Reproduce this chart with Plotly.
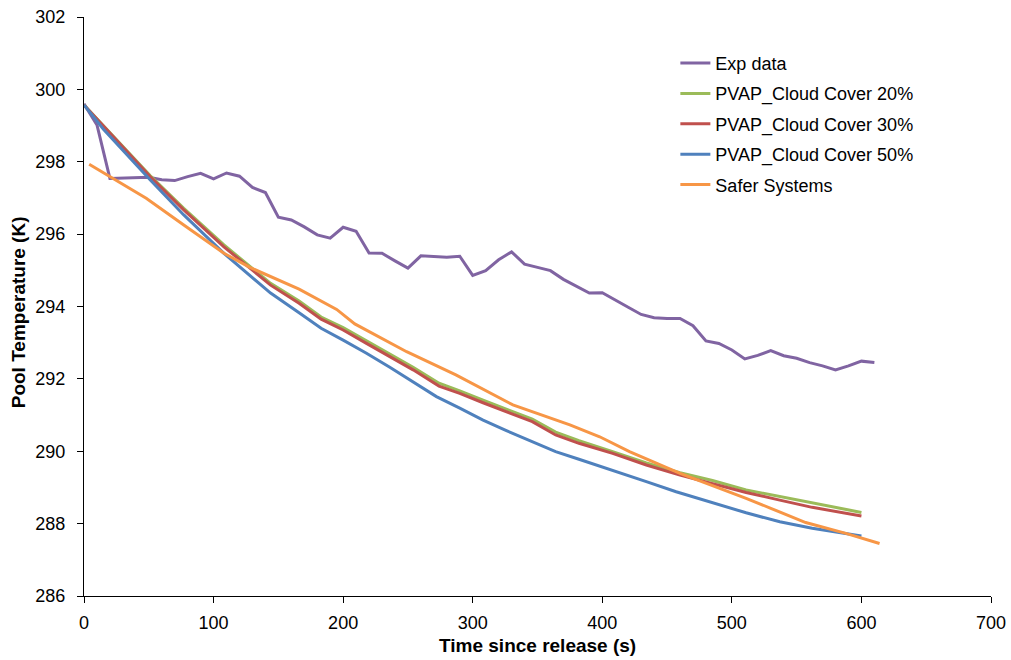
import plotly.graph_objects as go

# Exp data
exp_t = list(range(0, 620, 10))
exp_T = [299.60, 299.02, 297.54, 297.55, 297.56, 297.57, 297.50, 297.48, 297.59, 297.68,
         297.53, 297.69, 297.60, 297.29, 297.15, 296.47, 296.39, 296.20, 295.98, 295.89,
         296.19, 296.08, 295.48, 295.47, 295.26, 295.06, 295.40, 295.38, 295.36, 295.39,
         294.86, 294.99, 295.29, 295.51, 295.17, 295.08, 294.99, 294.75, 294.57, 294.37,
         294.38, 294.17, 293.98, 293.78, 293.69, 293.67, 293.67, 293.47, 293.05, 292.98,
         292.80, 292.55, 292.65, 292.78, 292.64, 292.57, 292.45, 292.36, 292.25, 292.36,
         292.49, 292.45]

# PVAP Cloud Cover 20%
c20_t = [0, 51, 77, 108, 144, 166, 183, 200, 218, 236, 254, 274, 290, 308, 326, 346, 364, 382, 408, 434, 460, 485, 511, 550, 600]
c20_T = [299.57, 297.62, 296.71, 295.70, 294.64, 294.15, 293.71, 293.42, 293.05, 292.68, 292.32, 291.88, 291.67, 291.41, 291.16, 290.89, 290.53, 290.29, 289.99, 289.68, 289.41, 289.19, 288.93, 288.65, 288.31]

# PVAP Cloud Cover 30%
c30_t = [0, 51, 77, 108, 144, 166, 183, 200, 218, 236, 254, 274, 290, 308, 326, 346, 364, 382, 408, 434, 460, 485, 511, 537, 562, 600]
c30_T = [299.57, 297.59, 296.67, 295.65, 294.59, 294.09, 293.65, 293.35, 292.98, 292.61, 292.25, 291.80, 291.60, 291.34, 291.09, 290.82, 290.45, 290.22, 289.94, 289.62, 289.34, 289.11, 288.86, 288.65, 288.45, 288.21]

# PVAP Cloud Cover 50%
c50_t = [0, 15, 51, 77, 108, 144, 166, 183, 200, 218, 236, 254, 272, 290, 308, 326, 346, 364, 382, 408, 434, 457, 485, 511, 537, 562, 600]
c50_T = [299.57, 298.90, 297.50, 296.53, 295.47, 294.37, 293.83, 293.40, 293.07, 292.71, 292.32, 291.92, 291.51, 291.19, 290.86, 290.57, 290.26, 289.99, 289.78, 289.48, 289.16, 288.88, 288.58, 288.30, 288.05, 287.87, 287.66]

# Safer Systems
ss_t = [4, 48, 77, 108, 128, 166, 195, 209, 249, 287, 331, 375, 398, 421, 460, 511, 557, 588, 614]
ss_T = [297.93, 296.99, 296.25, 295.47, 295.08, 294.48, 293.92, 293.52, 292.75, 292.11, 291.28, 290.73, 290.40, 289.99, 289.39, 288.70, 288.03, 287.73, 287.45]

series = [
    ("Exp data", exp_t, exp_T, "#8064A2"),
    ("PVAP_Cloud Cover 20%", c20_t, c20_T, "#9BBB59"),
    ("PVAP_Cloud Cover 30%", c30_t, c30_T, "#C0504D"),
    ("PVAP_Cloud Cover 50%", c50_t, c50_T, "#4F81BD"),
    ("Safer Systems", ss_t, ss_T, "#F79646"),
]

FONT = "Arial, Liberation Sans, sans-serif"
fig = go.Figure()
for i, (name, t, T, col) in enumerate(series):
    fig.add_trace(go.Scatter(x=t, y=T, mode="lines", name=name, legendgroup=f"g{i}",
                             line=dict(color=col, width=3)))

fig.update_layout(
    width=1011, height=660,
    margin=dict(l=84, r=20, t=17, b=64, autoexpand=False),
    plot_bgcolor="white", paper_bgcolor="white",
    font=dict(family=FONT, size=18, color="black"),
    showlegend=True,
    legend=dict(x=0.652, y=0.952, xanchor="left", yanchor="top",
                font=dict(family=FONT, size=18, color="black"),
                tracegroupgap=4, bgcolor="rgba(0,0,0,0)"),
    xaxis=dict(range=[0, 700], dtick=100, showgrid=False, zeroline=False,
               showline=True, linecolor="black", linewidth=1,
               ticks="outside", ticklen=6, tickcolor="black", automargin=False,
               ticklabelstandoff=4,
               tickfont=dict(family=FONT, size=18, color="black")),
    yaxis=dict(range=[286, 302], dtick=2, showgrid=False, zeroline=False,
               showline=True, linecolor="black", linewidth=1,
               ticks="outside", ticklen=6, tickcolor="black", automargin=False,
               ticklabelstandoff=8,
               tickfont=dict(family=FONT, size=18, color="black")),
    annotations=[
        dict(text="<b>Time since release (s)</b>", xref="paper", yref="paper",
             x=0.5, y=0, yshift=-49, xanchor="center", yanchor="middle",
             showarrow=False, font=dict(family=FONT, size=19, color="black")),
        dict(text="<b>Pool Temperature (K)</b>", xref="paper", yref="paper",
             x=0, xshift=-66, y=0.49, xanchor="center", yanchor="middle", textangle=-90,
             showarrow=False, font=dict(family=FONT, size=19, color="black")),
    ],
)

fig.write_html("out.html")
